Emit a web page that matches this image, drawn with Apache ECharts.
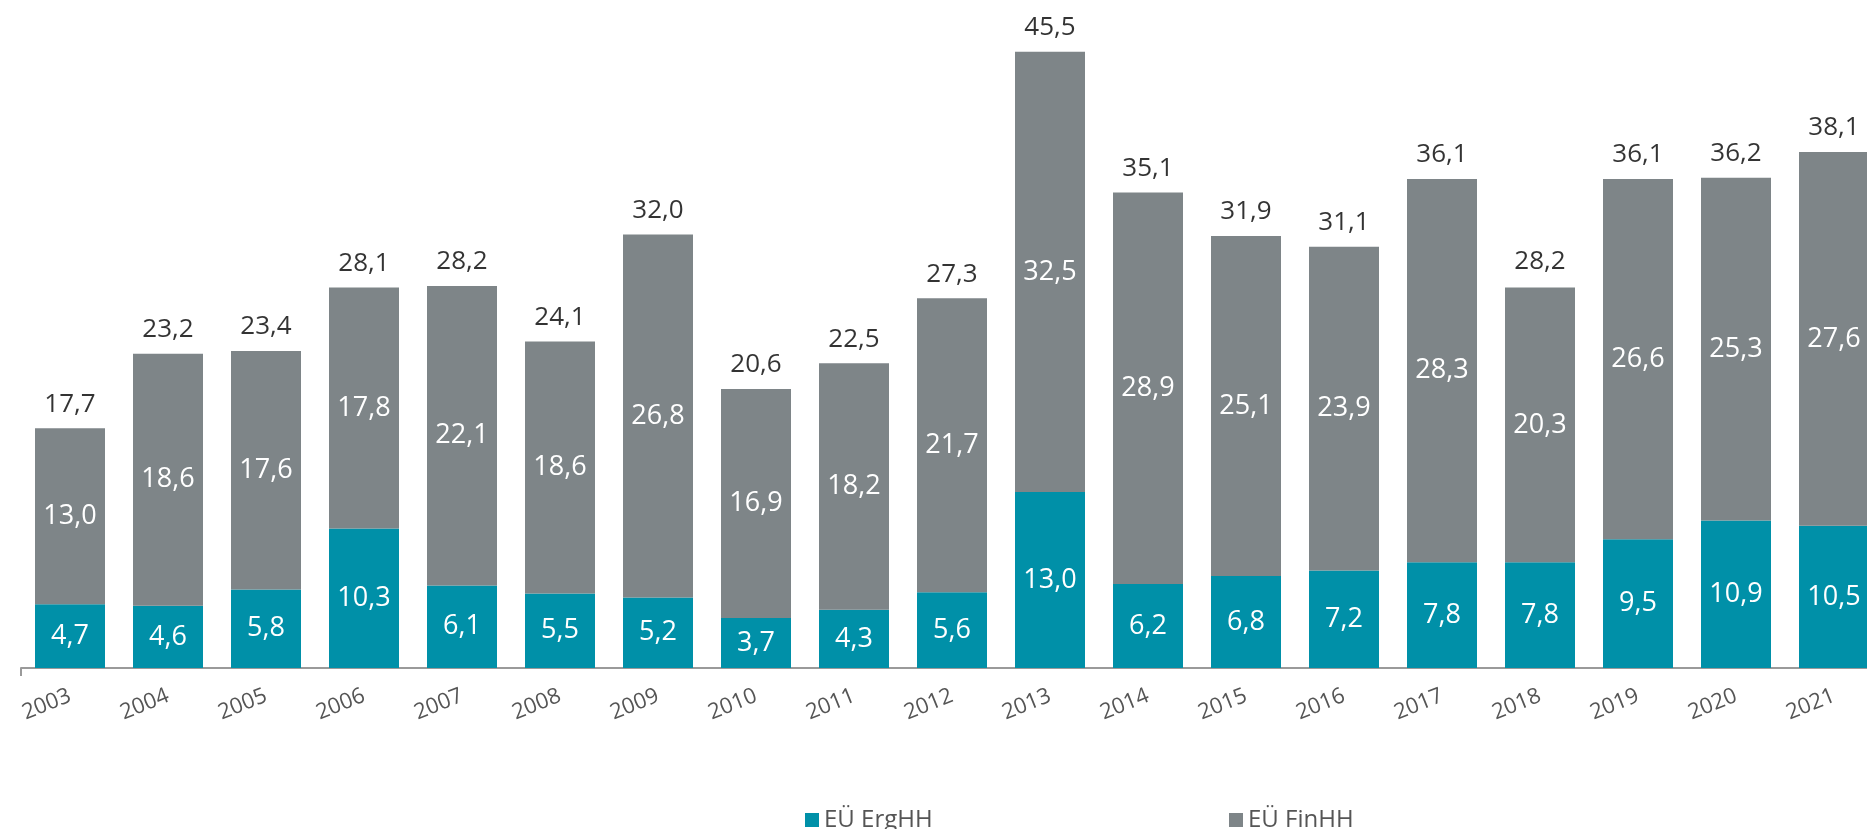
<!DOCTYPE html>
<html>
<head>
<meta charset="utf-8">
<script src="https://cdn.jsdelivr.net/npm/echarts@6/dist/echarts.min.js"></script>
<style>
  html, body { margin: 0; padding: 0; background: #fff; }
  #chart { width: 1867px; height: 829px; }
</style>
</head>
<body>
<div id="chart"></div>
<script>
// Jahre
var years = ['2003', '2004', '2005', '2006', '2007', '2008', '2009', '2010', '2011', '2012',
  '2013', '2014', '2015', '2016', '2017', '2018', '2019', '2020', '2021'];
// EÜ ErgHH
var ergHH = [4.7, 4.6, 5.8, 10.3, 6.1, 5.5, 5.2, 3.7, 4.3, 5.6, 13.0, 6.2, 6.8, 7.2, 7.8, 7.8, 9.5, 10.9, 10.5];
// EÜ FinHH
var finHH = [13.0, 18.6, 17.6, 17.8, 22.1, 18.6, 26.8, 16.9, 18.2, 21.7, 32.5, 28.9, 25.1, 23.9, 28.3, 20.3, 26.6, 25.3, 27.6];
// Summen (wie im Bild beschriftet)
var totals = [17.7, 23.2, 23.4, 28.1, 28.2, 24.1, 32.0, 20.6, 22.5, 27.3, 45.5, 35.1, 31.9, 31.1, 36.1, 28.2, 36.1, 36.2, 38.1];

var TEAL = '#0090a8';
var GREY = '#7e8588';

function fmt(v) {
  return v.toFixed(1).replace('.', ',');
}

var chart = echarts.init(document.getElementById('chart'));

chart.setOption({
  animation: false,
  textStyle: { fontFamily: '"Open Sans", sans-serif' },
  grid: { left: 21, width: 1862, top: 45, bottom: 161, outerBoundsMode: 'none', containLabel: false },
  legend: [
    {
      data: ['EÜ ErgHH'],
      left: 800, top: 803,
      itemWidth: 14, itemHeight: 14, itemGap: 6,
      icon: 'rect',
      textStyle: { fontSize: 24, color: '#555', fontFamily: '"Liberation Sans Narrow", "Open Sans", sans-serif' }
    },
    {
      data: ['EÜ FinHH'],
      left: 1224, top: 803,
      itemWidth: 14, itemHeight: 14, itemGap: 6,
      icon: 'rect',
      textStyle: { fontSize: 24, color: '#555', fontFamily: '"Liberation Sans Narrow", "Open Sans", sans-serif' }
    }
  ],
  xAxis: {
    type: 'category',
    data: years,
    axisLine: { lineStyle: { color: '#9a9a9a', width: 2 } },
    axisTick: {
      show: true,
      length: 8,
      interval: function (i) { return i === 0; },
      lineStyle: { color: '#9a9a9a', width: 2 }
    },
    axisLabel: { rotate: 22, fontSize: 22, color: '#555', margin: 27 }
  },
  yAxis: {
    type: 'value',
    min: 0, max: 46,
    show: false,
    splitLine: { show: false }
  },
  series: [
    {
      name: 'EÜ ErgHH',
      type: 'bar',
      stack: 'eu',
      barWidth: 70,
      data: ergHH,
      itemStyle: { color: TEAL },
      label: {
        show: true, position: 'inside', color: '#fff', fontSize: 27,
        formatter: function (p) { return fmt(p.value); }
      }
    },
    {
      name: 'EÜ FinHH',
      type: 'bar',
      stack: 'eu',
      barWidth: 70,
      data: finHH,
      itemStyle: { color: GREY },
      label: {
        show: true, position: 'inside', color: '#fff', fontSize: 27,
        formatter: function (p) { return fmt(p.value); }
      }
    },
    {
      name: 'Summe',
      type: 'scatter',
      data: totals,
      symbolSize: 0,
      silent: true,
      label: {
        show: true, position: 'top', distance: 11, color: '#000', fontSize: 26,
        formatter: function (p) { return fmt(p.value); }
      }
    }
  ]
});
</script>
</body>
</html>
